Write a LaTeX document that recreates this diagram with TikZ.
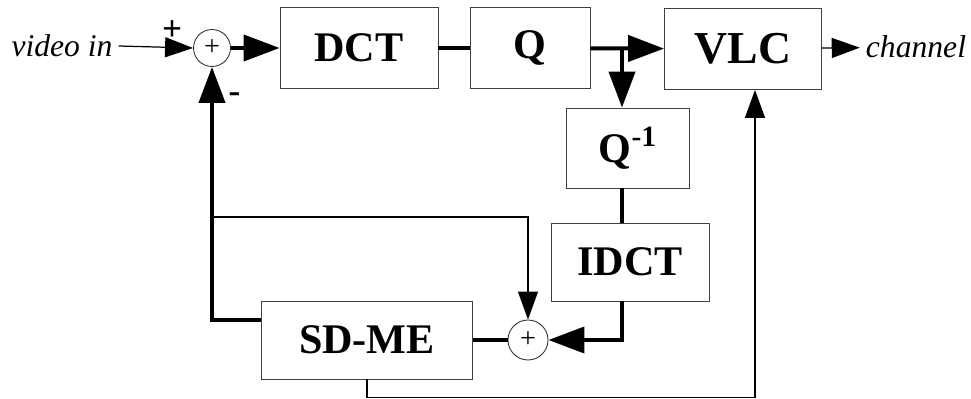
\documentclass[tikz,border=0pt]{standalone}
\usepackage{fontspec}
\setmainfont{Liberation Serif}
\usetikzlibrary{arrows.meta,positioning,calc}

\begin{document}
\begin{tikzpicture}[
    x=0.02cm, y=-0.02cm,
    blk/.style={draw=black!75, line width=0.5pt, minimum height=1.6cm, align=center, font=\fontsize{24}{28}\selectfont\bfseries},
    sumnode/.style={circle, draw=black!80, line width=0.5pt, inner sep=0pt, font=\fontsize{16}{16}\selectfont},
    sig/.style={font=\fontsize{18}{20}\selectfont\itshape},
    thickln/.style={line width=2.3pt, draw=black},
    thickarr/.style={-{Triangle[length=0.72cm,width=0.52cm]}, line width=2.3pt},
    thinarr/.style={-{Triangle[length=0.56cm,width=0.4cm]}, line width=0.7pt}
  ]
    \useasboundingbox (0,0) rectangle (971,399);
    \node[sig] (vin) at (62,46) {video in};
    \node[sumnode, minimum size=0.74cm] (sum1) at (212,48) {+};
    \node[blk, minimum width=3.16cm, minimum height=1.62cm] (dct) at (359,48) {DCT};
    \node[blk, minimum width=2.4cm, minimum height=1.62cm] (q) at (530,48) {Q};
    \node[blk, minimum width=3.14cm, minimum height=1.62cm, font=\fontsize{26}{28}\selectfont\bfseries] (vlc) at (743,49) {VLC};
    \node[sig] (chan) at (916,47) {channel};
    \node[blk, minimum width=2.46cm] (qinv) at (628,148) {Q\textsuperscript{-1}};
    \node[blk, minimum width=3.16cm, minimum height=1.56cm] (idct) at (630,262) {IDCT};
    \node[blk, minimum width=4.22cm, minimum height=1.56cm] (sdme) at (367,340) {SD-ME};
    \node[sumnode, minimum size=0.8cm] (sum2) at (528,340) {+};
    \coordinate (qsplit) at (622,48);
    \coordinate (tap) at (214,217);
    % forward path
    \draw[thinarr] (vin.east) -- node[above, pos=0.72, font=\fontsize{20}{20}\selectfont\bfseries]{+} (sum1.west);
    \draw[thickarr] (sum1) -- (dct);
    \draw[thickln] (dct) -- (q);
    \draw[thickarr] (q) -- (vlc);
    \draw[thinarr] (vlc) -- (chan);
    % local decoder
    \draw[thickarr] (qsplit) -- (qsplit |- qinv.north);
    \draw[thickln] (qsplit |- qinv.south) -- (qsplit |- idct.north);
    \draw[thickarr] (idct.south -| qsplit) |- (sum2.east);
    \draw[thickln] (sdme.east) -- (sum2.west);
    % prediction feedback
    \draw[thickarr] ($(sdme.west)+(0,-20)$) -| node[pos=0.94, right=5pt, font=\fontsize{20}{20}\selectfont\bfseries]{-} (sum1.south);
    \draw[thinarr] (tap) -| (sum2.north);
    \draw[thinarr] (sdme.south) -- ++(0,18) -| ([xshift=0.24cm]vlc.south);
  \end{tikzpicture}
\end{document}
